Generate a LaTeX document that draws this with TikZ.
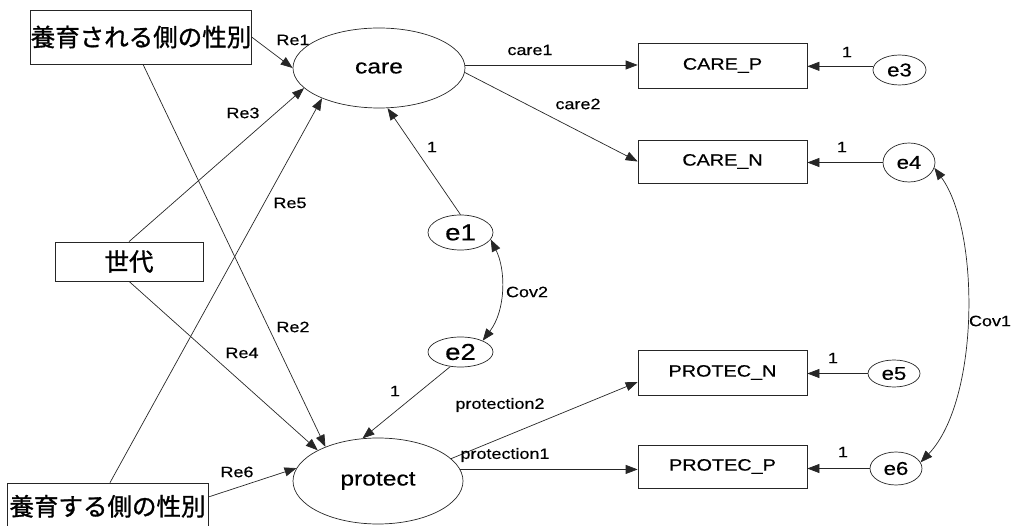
\documentclass[tikz,border=0pt]{standalone}
\usepackage{fontspec}
\setmainfont{Liberation Sans}
\newfontfamily\labf[FakeStretch=1.2,FakeBold=0.4]{Liberation Sans}
\newfontfamily\jpf[FakeBold=1.2]{Noto Sans CJK JP}
\usetikzlibrary{arrows.meta,shapes.geometric}
\begin{document}
\begin{tikzpicture}[x=1pt,y=-1pt,
  line/.style={draw=black!85, line width=0.7pt},
  arr/.style={line, -{Triangle[length=12pt,width=9pt]}},
  darr/.style={line, {Triangle[length=12pt,width=9pt]}-{Triangle[length=12pt,width=9pt]}},
  obs/.style={draw=black!85, rectangle, inner sep=0pt, line width=0.7pt},
  jpbox/.style={obs, font=\jpf\fontsize{24.5}{28}\selectfont},
  mbox/.style={obs, minimum width=169pt, font=\labf\fontsize{16.5}{19}\selectfont},
  lat/.style={draw=black!85, ellipse, inner sep=0pt, line width=0.7pt},
  biglat/.style={lat, font=\labf\fontsize{20.5}{23}\selectfont},
  errl/.style={lat, font=\labf\fontsize{18.5}{21}\selectfont},
  errb/.style={lat, font=\labf\fontsize{23}{26}\selectfont},
  lbl/.style={font=\labf\fontsize{15}{17}\selectfont, inner sep=0pt},
]
\useasboundingbox (0,0) rectangle (1015,526);

% observed boxes
\node[jpbox, minimum width=220pt, minimum height=54pt] (b1) at (141,37) {養育される側の性別};
\node[jpbox, minimum width=148pt, minimum height=39pt] (gen) at (129,261.5) {世代};
\node[jpbox, minimum width=201pt, minimum height=47pt] (b2) at (107.5,506.5) {\raisebox{2.5pt}{養育する側の性別}};

\node[mbox, minimum height=45pt] (carep) at (722.5,65.5) {CARE\_P};
\node[mbox, minimum height=43pt] (caren) at (722.5,161.5) {CARE\_N};
\node[mbox, minimum height=45pt] (protn) at (722.5,372.5) {PROTEC\_N};
\node[mbox, minimum height=43pt] (protp) at (722.5,466.5) {PROTEC\_P};

% latent
\node[biglat, minimum width=172pt, minimum height=80pt] (care) at (379,68) {care};
\node[biglat, minimum width=170pt, minimum height=86pt] (protect) at (378,481) {protect};

% errors
\node[errb, minimum width=65pt, minimum height=35pt] (e1) at (460.5,232.5) {e1};
\node[errb, minimum width=65pt, minimum height=30pt] (e2) at (460.5,352) {e2};
\node[errl, minimum width=53pt, minimum height=30pt] (e3) at (899.5,70) {e3};
\node[errl, minimum width=52pt, minimum height=39pt] (e4) at (909,162.5) {e4};
\node[errl, minimum width=52pt, minimum height=27pt] (e5) at (894,373.5) {e5};
\node[errl, minimum width=52pt, minimum height=33pt] (e6) at (896,468.5) {e6};

% paths
\draw[arr] (b1.east) -- (care.west);
\draw[arr] ([xshift=2pt]b1.south) -- (protect.147);
\draw[arr] (gen.north) -- (care.195);
\draw[arr] (gen.south) -- (protect.153);
\draw[arr] ([xshift=2.5pt]b2.north) -- (care.208);
\draw[arr] ([yshift=9.5pt]b2.east) -- (protect.171);

\draw[arr] (e1.north) -- (care.282);
\draw[arr] (e2.235) -- (protect.110);

\draw[arr] (care.2) -- (care.2 -| carep.west);
\draw[arr] (care.-3) -- (caren.west);
\draw[arr] (protect.17) -- ([yshift=-9.5pt]protn.west);
\draw[arr] (protect.8) -- (protect.8 -| protp.west);

\draw[arr] (e3.172) -- (e3.172 -| carep.east);
\draw[arr] (e4.west) -- (e4.west -| caren.east);
\draw[arr] (e5.west) -- (e5.west -| protn.east);
\draw[arr] (e6.west) -- (e6.west -| protp.east);

\draw[darr] (e1.-13) .. controls (506,270) and (506,310) .. (e2.27);
\draw[darr] (e4.-12) .. controls (980,230) and (980,400) .. (e6.14);

% labels
\node[lbl] (lre1) at (293,40) {Re1};
\node[lbl] (lre3) at (243,113) {Re3};
\node[lbl] (lre5) at (290,203) {Re5};
\node[lbl] (lre2) at (293,327) {Re2};
\node[lbl] (lre4) at (242,353) {Re4};
\node[lbl] (lre6) at (237,472) {Re6};
\node[lbl] (l1a) at (432,147) {1};
\node[lbl] (l1b) at (395,391) {1};
\node[lbl] (lc1) at (530,50) {care1};
\node[lbl] (lc2) at (578,104) {care2};
\node[lbl] (lcov2) at (527,292) {Cov2};
\node[lbl] (lcov1) at (990,321) {Cov1};
\node[lbl] (lp2) at (500,405) {protection2};
\node[lbl] (lp1) at (505,455) {protection1};
\node[lbl] (l1c) at (847,52) {1};
\node[lbl] (l1d) at (842,147) {1};
\node[lbl] (l1e) at (833,358) {1};
\node[lbl] (l1f) at (843,452) {1};
\end{tikzpicture}
\end{document}
